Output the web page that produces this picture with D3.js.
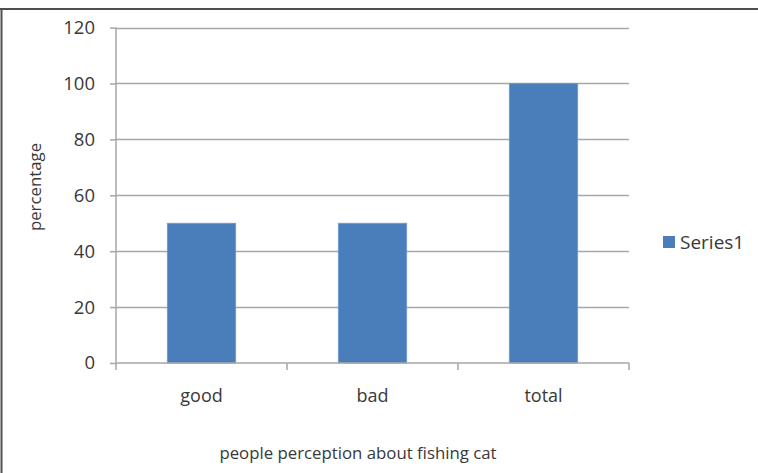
<!DOCTYPE html>
<html>
<head>
<meta charset="utf-8">
<script src="https://cdn.jsdelivr.net/npm/d3@7"></script>
<style>
  html, body { margin: 0; padding: 0; background: #fff; }
  svg { display: block; }
  text { font-family: "Open Sans", Lato, sans-serif; fill: #383838; }
</style>
</head>
<body>
<svg id="chart" width="758" height="473"></svg>
<script>
// Survey responses: share of people by perception of the fishing cat
const categories = ["good", "bad", "total"];
const values = [50, 50, 100];
const yTicks = [0, 20, 40, 60, 80, 100, 120];
const seriesName = "Series1";

const svg = d3.select("#chart");
const W = 758, H = 473;
const FONT = "'Open Sans', Lato, sans-serif";

// Frame around the chart area (top and left edges)
svg.append("line").attr("x1", 0).attr("x2", W).attr("y1", 9).attr("y2", 9)
  .attr("stroke", "#505050").attr("stroke-width", 2);
svg.append("line").attr("x1", 1.5).attr("x2", 1.5).attr("y1", 8).attr("y2", H)
  .attr("stroke", "#505050").attr("stroke-width", 2);

const plot = { left: 116, right: 629, top: 27.6, bottom: 363 };

const x = d3.scaleBand().domain(categories).range([plot.left, plot.right]).padding(0);
const y = d3.scaleLinear().domain([0, 120]).range([plot.bottom, plot.top]);

// Horizontal gridlines
svg.append("g").selectAll("line").data(yTicks.filter(t => t > 0)).join("line")
  .attr("x1", plot.left).attr("x2", plot.right)
  .attr("y1", d => Math.round(y(d)) + 0.5).attr("y2", d => Math.round(y(d)) + 0.5)
  .attr("stroke", "#a6a6a6").attr("stroke-width", 1.5);

// Bars
const barW = x.bandwidth() * 0.4;
svg.append("g").selectAll("rect").data(values).join("rect")
  .attr("x", (d, i) => x(categories[i]) + (x.bandwidth() - barW) / 2)
  .attr("y", d => y(d))
  .attr("width", barW)
  .attr("height", d => y(0) - y(d))
  .attr("fill", "#4a7ebb")
  .attr("stroke", "#6d9ad0")
  .attr("stroke-width", 0.8);

// Y axis
const yAxis = svg.append("g").attr("transform", `translate(${plot.left},0)`)
  .call(d3.axisLeft(y).tickValues(yTicks).tickSize(6).tickPadding(15));
yAxis.select(".domain").attr("stroke", "#a6a6a6").attr("stroke-width", 1.5)
  .attr("d", `M0,${plot.top}V${plot.bottom}`);
yAxis.selectAll(".tick line").attr("stroke", "#a6a6a6").attr("stroke-width", 1.5);
yAxis.selectAll(".tick text").attr("font-size", 18.5).attr("fill", "#383838")
  .style("font-family", FONT);

// X axis with tick marks at category boundaries
const xAxis = svg.append("g").attr("transform", `translate(0,${plot.bottom})`)
  .call(d3.axisBottom(x).tickSize(0).tickPadding(26));
xAxis.select(".domain").attr("stroke", "#a6a6a6").attr("stroke-width", 1.5)
  .attr("d", `M${plot.left},0H${plot.right}`);
xAxis.selectAll(".tick text").attr("font-size", 18).attr("fill", "#383838")
  .style("font-family", FONT);
const bounds = categories.map(c => x(c)).concat([x(categories[categories.length - 1]) + x.bandwidth()]);
xAxis.append("g").selectAll("line").data(bounds).join("line")
  .attr("x1", d => d).attr("x2", d => d).attr("y1", 0).attr("y2", 7)
  .attr("stroke", "#a6a6a6").attr("stroke-width", 1.5);

// Axis titles
svg.append("text")
  .attr("transform", "translate(41,187) rotate(-90)")
  .attr("text-anchor", "middle").attr("font-size", 16.8)
  .text("percentage");
svg.append("text")
  .attr("x", 358).attr("y", 459)
  .attr("text-anchor", "middle").attr("font-size", 16.8)
  .text("people perception about fishing cat");

// Legend
svg.append("rect").attr("x", 663).attr("y", 236).attr("width", 12).attr("height", 12)
  .attr("fill", "#4a7ebb");
svg.append("text").attr("x", 680).attr("y", 249).attr("font-size", 19)
  .text(seriesName);
</script>
</body>
</html>
